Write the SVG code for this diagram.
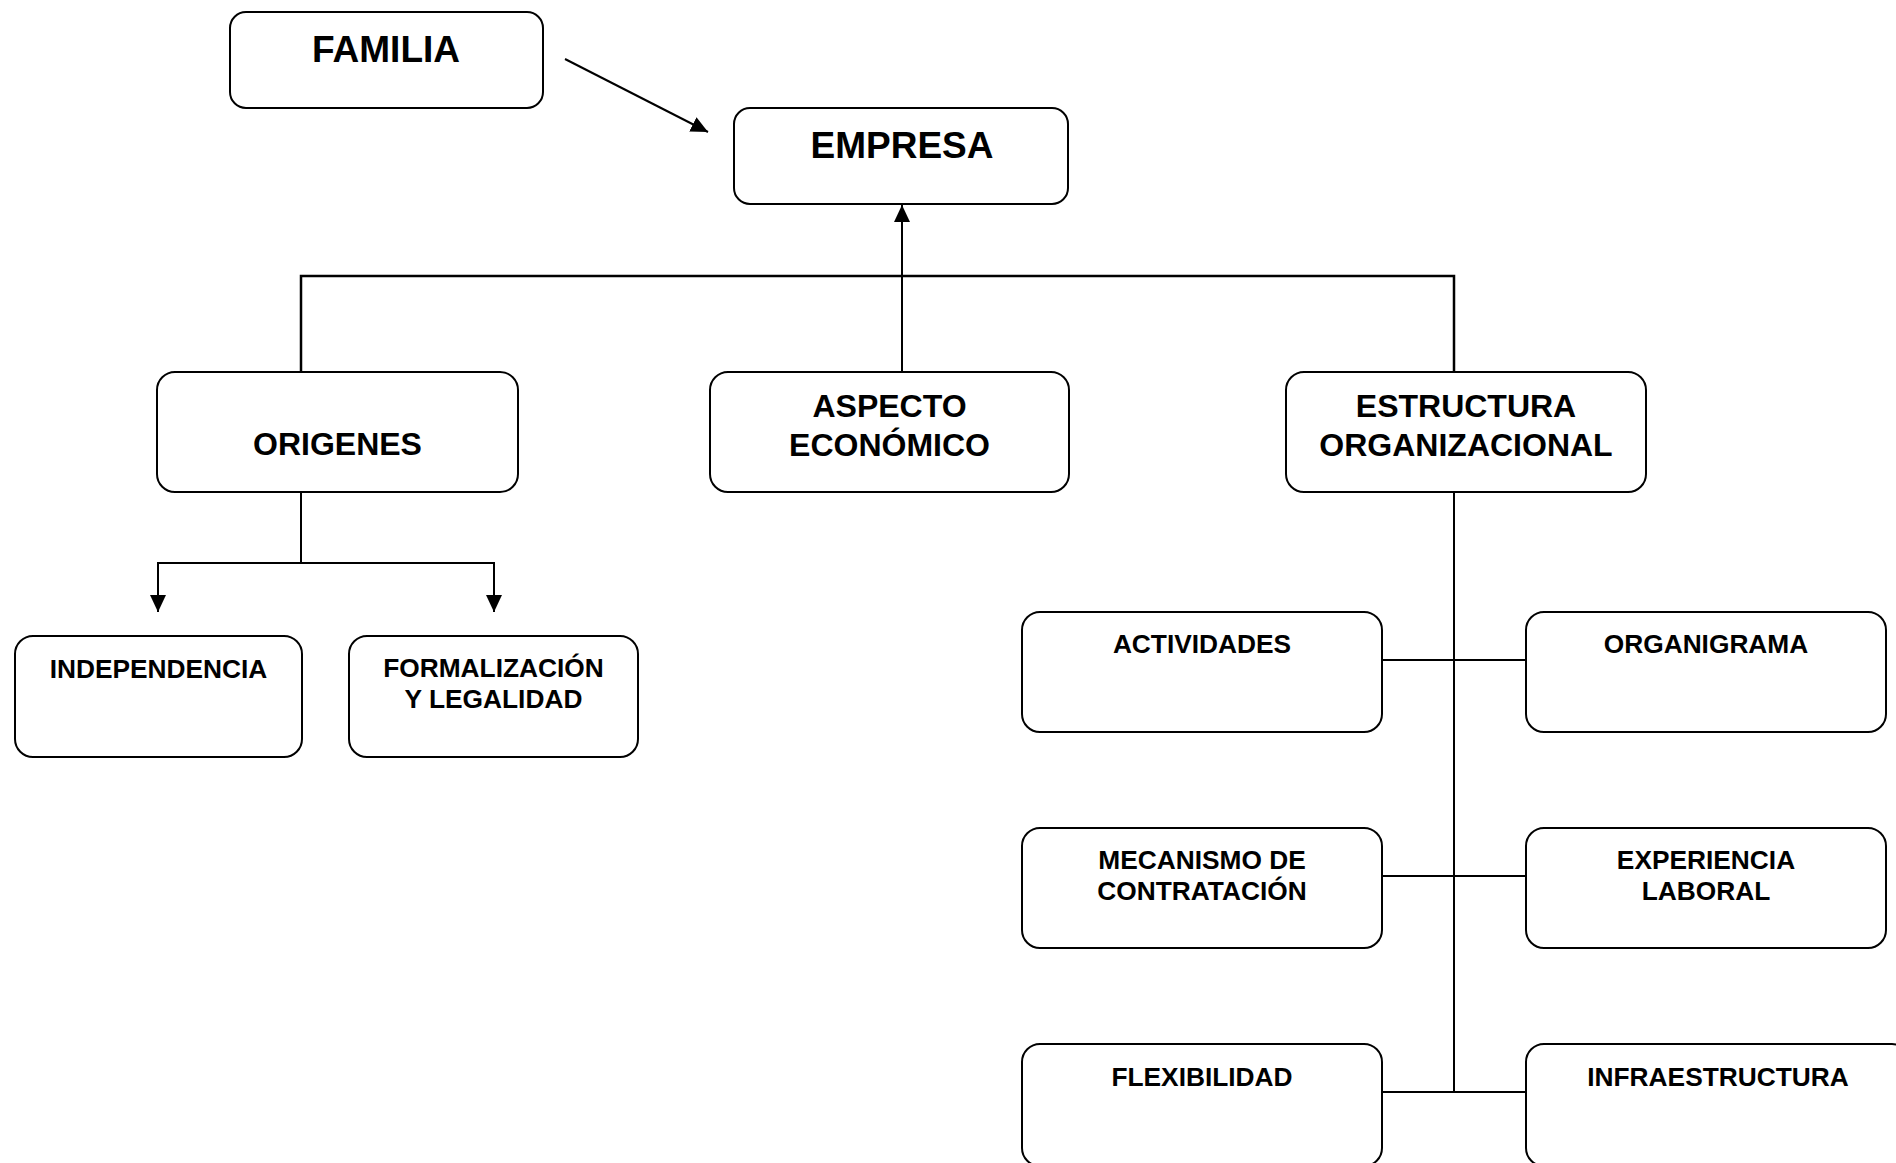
<svg xmlns="http://www.w3.org/2000/svg" width="1896" height="1163" viewBox="0 0 1896 1163">
  <style>
    .box { fill: #ffffff; stroke: #000000; stroke-width: 2; }
    .link { fill: none; stroke: #000000; stroke-width: 2; }
    text { font-family: "Liberation Sans", Arial, sans-serif; font-weight: bold; fill: #000000; text-anchor: middle; }
    .t1 { font-size: 37px; }
    .t2 { font-size: 32px; }
    .t3 { font-size: 26.3px; }
  </style>
  <defs>
    <marker id="arrow" markerUnits="userSpaceOnUse" markerWidth="18" markerHeight="16" refX="17" refY="8" orient="auto">
      <path d="M0,0 L17,8 L0,16 Z" fill="#000000"/>
    </marker>
  </defs>
  <rect width="1896" height="1163" fill="#ffffff"/>

  <!-- connectors -->
  <g id="connectors">
    <line class="link" x1="565" y1="59" x2="708" y2="132" marker-end="url(#arrow)"/>
    <line class="link" x1="902" y1="372" x2="902" y2="205" marker-end="url(#arrow)"/>
    <polyline class="link" style="stroke-width:2.5" points="301,372 301,276 1454,276 1454,372"/>
    <polyline class="link" points="301,492 301,563 158,563 158,612" marker-end="url(#arrow)"/>
    <polyline class="link" points="301,563 494,563 494,612" marker-end="url(#arrow)"/>
    <line class="link" x1="1454" y1="492" x2="1454" y2="1092"/>
    <line class="link" x1="1382" y1="660" x2="1526" y2="660"/>
    <line class="link" x1="1382" y1="876" x2="1526" y2="876"/>
    <line class="link" x1="1382" y1="1092" x2="1526" y2="1092"/>
  </g>

  <!-- nodes -->
  <g id="familia">
    <rect class="box" x="230" y="12" width="313" height="96" rx="16"/>
    <text class="t1" x="386" y="62">FAMILIA</text>
  </g>
  <g id="empresa">
    <rect class="box" x="734" y="108" width="334" height="96" rx="16"/>
    <text class="t1" x="902" y="158">EMPRESA</text>
  </g>
  <g id="origenes">
    <rect class="box" x="157" y="372" width="361" height="120" rx="18"/>
    <text class="t2" x="337.5" y="455">ORIGENES</text>
  </g>
  <g id="aspecto">
    <rect class="box" x="710" y="372" width="359" height="120" rx="18"/>
    <text class="t2" x="889.5" y="417">ASPECTO</text>
    <text class="t2" x="889.5" y="456">ECONÓMICO</text>
  </g>
  <g id="estructura">
    <rect class="box" x="1286" y="372" width="360" height="120" rx="18"/>
    <text class="t2" x="1466" y="417">ESTRUCTURA</text>
    <text class="t2" x="1466" y="456">ORGANIZACIONAL</text>
  </g>
  <g id="independencia">
    <rect class="box" x="15" y="636" width="287" height="121" rx="18"/>
    <text class="t3" x="158.5" y="678">INDEPENDENCIA</text>
  </g>
  <g id="formalizacion">
    <rect class="box" x="349" y="636" width="289" height="121" rx="18"/>
    <text class="t3" x="493.5" y="677">FORMALIZACIÓN</text>
    <text class="t3" x="493.5" y="708">Y LEGALIDAD</text>
  </g>
  <g id="actividades">
    <rect class="box" x="1022" y="612" width="360" height="120" rx="18"/>
    <text class="t3" x="1202" y="653">ACTIVIDADES</text>
  </g>
  <g id="organigrama">
    <rect class="box" x="1526" y="612" width="360" height="120" rx="18"/>
    <text class="t3" x="1706" y="653">ORGANIGRAMA</text>
  </g>
  <g id="mecanismo">
    <rect class="box" x="1022" y="828" width="360" height="120" rx="18"/>
    <text class="t3" x="1202" y="869">MECANISMO DE</text>
    <text class="t3" x="1202" y="900">CONTRATACIÓN</text>
  </g>
  <g id="experiencia">
    <rect class="box" x="1526" y="828" width="360" height="120" rx="18"/>
    <text class="t3" x="1706" y="869">EXPERIENCIA</text>
    <text class="t3" x="1706" y="900">LABORAL</text>
  </g>
  <g id="flexibilidad">
    <rect class="box" x="1022" y="1044" width="360" height="122" rx="18"/>
    <text class="t3" x="1202" y="1086">FLEXIBILIDAD</text>
  </g>
  <g id="infraestructura">
    <rect class="box" x="1526" y="1044" width="384" height="122" rx="18"/>
    <text class="t3" x="1718" y="1086">INFRAESTRUCTURA</text>
  </g>
</svg>
